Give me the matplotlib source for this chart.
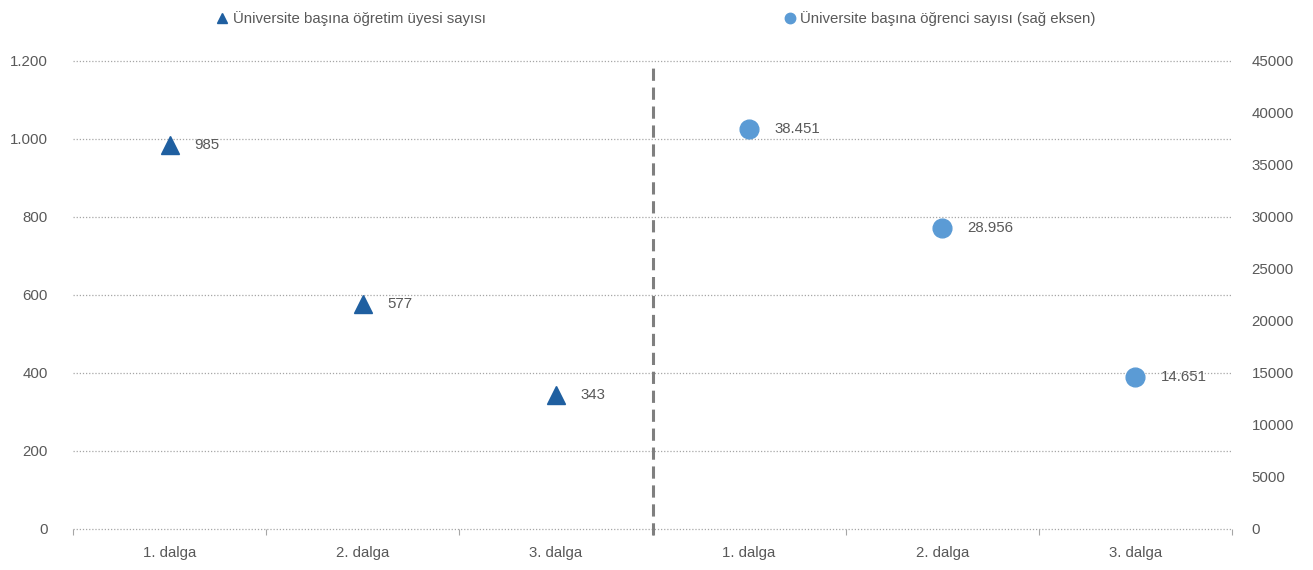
import matplotlib
matplotlib.use("Agg")
import matplotlib.pyplot as plt
from matplotlib.lines import Line2D
from matplotlib.ticker import FuncFormatter, FixedLocator

plt.rcParams['font.family'] = ['Liberation Sans', 'DejaVu Sans']

categories = ["1. dalga", "2. dalga", "3. dalga", "1. dalga", "2. dalga", "3. dalga"]
faculty_pos = [0, 1, 2]
faculty_values = [985, 577, 343]
faculty_labels = ["985", "577", "343"]
student_pos = [3, 4, 5]
student_values = [38451, 28956, 14651]
student_labels = ["38.451", "28.956", "14.651"]
left_ticks = [0, 200, 400, 600, 800, 1000, 1200]
left_tick_labels = ["0", "200", "400", "600", "800", "1.000", "1.200"]
right_ticks = [0, 5000, 10000, 15000, 20000, 25000, 30000, 35000, 40000, 45000]
legend_faculty = "Üniversite başına öğretim üyesi sayısı"
legend_student = "Üniversite başına öğrenci sayısı (sağ eksen)"

dark_blue = "#1f5fa0"
light_blue = "#5b9bd5"
text_grey = "#595959"
grid_grey = "#a6a6a6"
fs = 10.8

fig = plt.figure(figsize=(13.13, 5.70), dpi=100)
W, H = 1313, 570
x0, x1 = 73, 1232
y_top, y_bot = 61, 529
ax = fig.add_axes([x0 / W, 1 - y_bot / H, (x1 - x0) / W, (y_bot - y_top) / H])
ax2 = ax.twinx()

ax.set_xlim(-0.5, 5.5)
ax.set_ylim(0, 1200)
ax2.set_ylim(0, 45000)

for a in (ax, ax2):
    for s in a.spines.values():
        s.set_visible(False)

ax.yaxis.set_major_locator(FixedLocator(left_ticks))
ax.set_yticklabels(left_tick_labels)
ax2.yaxis.set_major_locator(FixedLocator(right_ticks))
ax2.yaxis.set_major_formatter(FuncFormatter(lambda v, p: f"{int(v)}"))

ax.tick_params(axis='y', length=0, pad=18, labelsize=fs, labelcolor=text_grey)
ax2.tick_params(axis='y', length=0, pad=14, labelsize=fs, labelcolor=text_grey)

# x axis: category labels at centers, tick marks at boundaries
ax.set_xticks(range(len(categories)))
ax.set_xticklabels(categories)
ax.set_xticks([-0.5, 0.5, 1.5, 2.5, 3.5, 4.5, 5.5], minor=True)
ax.tick_params(axis='x', which='major', length=0, pad=12, labelsize=fs, labelcolor=text_grey)
ax.tick_params(axis='x', which='minor', length=4, width=0.8, color=grid_grey, direction='out')

ax.grid(axis='y', linestyle=(0, (1, 1.5)), color=grid_grey, linewidth=0.9)
for gl in ax.get_ygridlines():
    gl.set_clip_on(False)
ax.set_axisbelow(True)
ax.axvline(2.5, ymin=-0.013, ymax=0.99, color="#7f7f7f", linestyle=(0, (4, 2.2)),
           linewidth=2.2, clip_on=False, zorder=1)

ax.plot(faculty_pos, faculty_values, linestyle='none', marker='^', markersize=13,
        color=dark_blue, zorder=5)
ax2.plot(student_pos, student_values, linestyle='none', marker='o', markersize=13.5,
         color=light_blue, zorder=5)

for xp, v, lab in zip(faculty_pos, faculty_values, faculty_labels):
    ax.annotate(lab, (xp, v), xytext=(18, 0), textcoords='offset points',
                va='center', ha='left', fontsize=fs, color=text_grey)
for xp, v, lab in zip(student_pos, student_values, student_labels):
    ax2.annotate(lab, (xp, v), xytext=(18, 0), textcoords='offset points',
                 va='center', ha='left', fontsize=fs, color=text_grey)

h1 = Line2D([], [], linestyle='none', marker='^', markersize=7, color=dark_blue)
h2 = Line2D([], [], linestyle='none', marker='o', markersize=7.5, color=light_blue)
fig.legend([h1], [legend_faculty], loc='center left',
           bbox_to_anchor=(216 / W, 1 - 19 / H), frameon=False,
           fontsize=fs, labelcolor=text_grey, handlelength=0.8,
           handletextpad=0.3, borderpad=0, borderaxespad=0)
fig.legend([h2], [legend_student], loc='center left',
           bbox_to_anchor=(784 / W, 1 - 19 / H), frameon=False,
           fontsize=fs, labelcolor=text_grey, handlelength=0.8,
           handletextpad=0.3, borderpad=0, borderaxespad=0)

fig.savefig("out.png", dpi=100)
